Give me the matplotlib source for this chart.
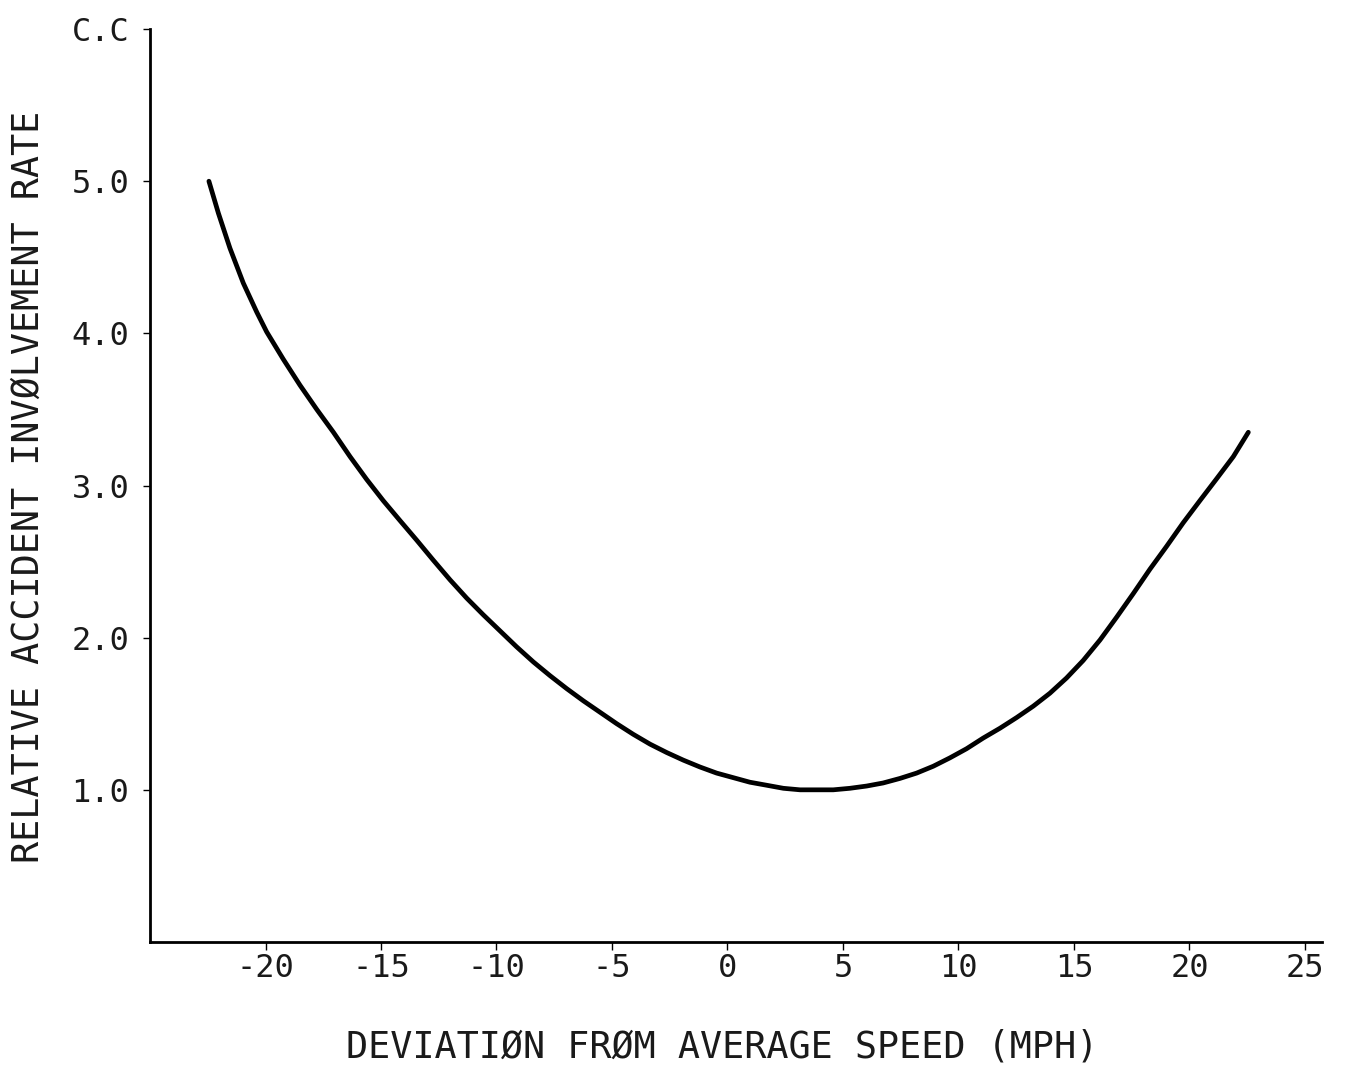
import matplotlib.pyplot as plt

# deviation from average speed (mph) and relative accident involvement rate
speed_dev = [-22.45, -22.04, -21.54, -20.96, -20.38, -19.95, -19.23, -18.51, -17.78, -17.06,
             -16.34, -15.62, -14.90, -14.18, -13.45, -12.74, -12.01, -11.29, -10.57, -9.85,
             -9.13, -8.40, -7.68, -6.96, -6.24, -5.52, -4.80, -4.08, -3.35, -2.63,
             -1.91, -1.19, -0.47, 0.25, 0.97, 1.70, 2.42, 3.14, 3.86, 4.58,
             5.30, 6.03, 6.74, 7.47, 8.19, 8.91, 9.63, 10.35, 11.07, 11.80,
             12.52, 13.24, 13.96, 14.68, 15.40, 16.13, 16.85, 17.57, 18.29, 19.01,
             19.73, 20.45, 21.18, 21.90, 22.55]
rate = [5.00, 4.79, 4.56, 4.33, 4.14, 4.01, 3.83, 3.66, 3.50, 3.35,
        3.19, 3.04, 2.90, 2.77, 2.64, 2.51, 2.38, 2.26, 2.15, 2.045,
        1.94, 1.84, 1.75, 1.665, 1.585, 1.51, 1.435, 1.365, 1.30, 1.245,
        1.195, 1.15, 1.11, 1.08, 1.05, 1.03, 1.01, 1.00, 1.00, 1.00,
        1.01, 1.025, 1.045, 1.075, 1.11, 1.155, 1.21, 1.27, 1.34, 1.405,
        1.475, 1.55, 1.635, 1.735, 1.85, 1.985, 2.135, 2.29, 2.45, 2.60,
        2.755, 2.90, 3.045, 3.19, 3.35]

xticks = [-20, -15, -10, -5, 0, 5, 10, 15, 20, 25]
yticks = [1, 2, 3, 4, 5, 6]
ytick_labels = ['1.0', '2.0', '3.0', '4.0', '5.0', 'C.C']

font = 'DejaVu Sans Mono'
fs = 23

fig = plt.figure(figsize=(13.49, 10.68), dpi=100)
ax = fig.add_axes([0.1112, 0.118, 0.980 - 0.1112, 0.9728 - 0.118])

ax.plot(speed_dev, rate, color='black', lw=3.4, solid_joinstyle='round', solid_capstyle='round')

ax.set_xlim(-25, 25.74)
ax.set_ylim(0, 6)
ax.spines['top'].set_visible(False)
ax.spines['right'].set_visible(False)
ax.spines['left'].set_linewidth(2.0)
ax.spines['bottom'].set_linewidth(2.0)

ax.set_xticks(xticks)
ax.set_xticklabels([str(t) for t in xticks], fontfamily=font, fontsize=fs, color='#1a1a1a')
ax.set_yticks(yticks)
ax.set_yticklabels(ytick_labels, fontfamily=font, fontsize=fs, color='#1a1a1a')
ax.tick_params(axis='x', length=6, width=1, pad=2)
ax.tick_params(axis='y', length=5, width=1, pad=10)

fig.text(722 / 1349, 1 - 1047 / 1068, 'DEVIATIØN FRØM AVERAGE SPEED (MPH)',
         fontfamily=font, fontsize=26.5, color='#1a1a1a', ha='center', va='center')
fig.text(28 / 1349, 1 - 487 / 1068, 'RELATIVE ACCIDENT INVØLVEMENT RATE',
         fontfamily=font, fontsize=26.5, color='#1a1a1a', ha='center', va='center', rotation=90)

fig.savefig('out.png', dpi=100)
